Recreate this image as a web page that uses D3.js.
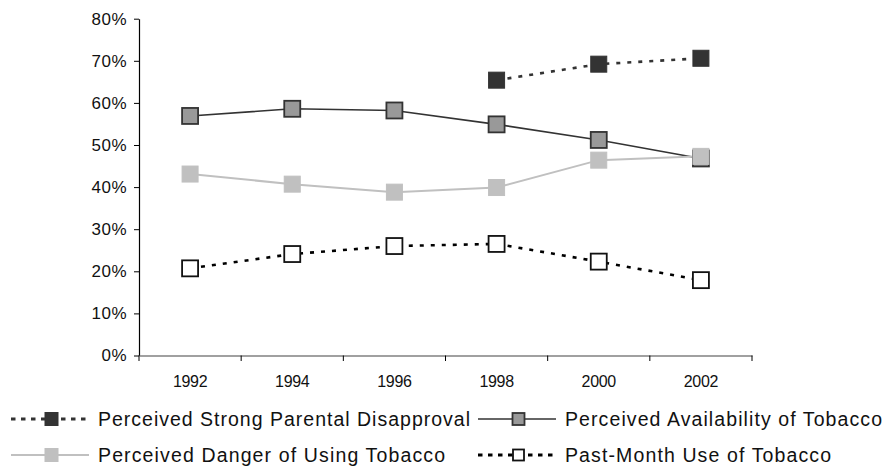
<!DOCTYPE html>
<html><head><meta charset="utf-8">
<script src="https://cdn.jsdelivr.net/npm/d3@7"></script>
<style>body{margin:0;background:#fff}svg{display:block;font-family:"Liberation Sans",Arial,sans-serif}</style>
</head><body><svg id="c" width="893" height="468"></svg>
<script>
const years = ["1992","1994","1996","1998","2000","2002"];
const parental = [null,null,null,65.4,69.2,70.6];
const availability = [56.9,58.6,58.2,54.9,51.2,46.8];
const danger = [43.1,40.7,38.8,39.9,46.4,47.3];
const pastMonth = [20.7,24.1,26.0,26.5,22.3,17.9];
const yTicks = [0,10,20,30,40,50,60,70,80];
const seriesNames = ["Perceived Strong Parental Disapproval","Perceived Availability of Tobacco","Perceived Danger of Using Tobacco","Past-Month Use of Tobacco"];

const series = [
  {name:seriesNames[0], values:parental, line:"#333333", lw:2.6, dash:"4,7", ldash:"4.5,5.5", fill:"#333333", stroke:"#333333", sw:1},
  {name:seriesNames[1], values:availability, line:"#333333", lw:1.6, dash:null, ldash:null, fill:"#999999", stroke:"#333333", sw:1.8},
  {name:seriesNames[2], values:danger, line:"#c0c0c0", lw:2, dash:null, ldash:null, fill:"#c0c0c0", stroke:"#c0c0c0", sw:1},
  {name:seriesNames[3], values:pastMonth, line:"#000000", lw:2.6, dash:"4,7", ldash:"4.5,5.5", fill:"#ffffff", stroke:"#111111", sw:1.8}
];

const svg = d3.select("#c");
const x = d3.scaleBand().domain(years).range([139,752]);
const y = d3.scaleLinear().domain([0,80]).range([355.5,18.7]);

// y axis
const ya = svg.append("g").attr("transform","translate(139,0)")
  .call(d3.axisLeft(y).tickValues(yTicks).tickFormat(d=>d+"%").tickSize(5).tickSizeOuter(0));
ya.select(".domain").attr("stroke","#000").attr("stroke-width",1.2);
ya.selectAll(".tick line").attr("stroke","#000");
ya.selectAll("text").attr("font-size",17).attr("letter-spacing",0.5).attr("fill","#111").attr("x",-12).attr("font-family","Liberation Sans, Arial, sans-serif");

// x axis
const xa = svg.append("g").attr("transform","translate(0,355.5)")
  .call(d3.axisBottom(x).tickSize(0).tickSizeOuter(0));
xa.select(".domain").attr("stroke","#808080").attr("stroke-width",1.5);
xa.selectAll("text").attr("font-size",16).attr("letter-spacing",-0.3).attr("fill","#111").attr("y",20).attr("dy","0.71em").attr("font-family","Liberation Sans, Arial, sans-serif");
const bounds = years.map(d=>x(d)).concat([x(years[years.length-1])+x.bandwidth()]);
svg.append("g").selectAll("line").data(bounds).join("line")
  .attr("x1",d=>d).attr("x2",d=>d).attr("y1",355.5).attr("y2",361).attr("stroke","#000").attr("stroke-width",1);

const cx = d=>x(d)+x.bandwidth()/2;
const ms = 16;
series.forEach(s=>{
  const pts = years.map((yr,i)=>({yr,v:s.values[i]})).filter(p=>p.v!=null);
  const line = d3.line().x(p=>cx(p.yr)).y(p=>y(p.v));
  svg.append("path").datum(pts).attr("d",line).attr("fill","none")
    .attr("stroke",s.line).attr("stroke-width",s.lw).attr("stroke-dasharray",s.dash);
});
series.forEach(s=>{
  const pts = years.map((yr,i)=>({yr,v:s.values[i]})).filter(p=>p.v!=null);
  svg.append("g").selectAll("rect").data(pts).join("rect")
    .attr("x",p=>cx(p.yr)-ms/2).attr("y",p=>y(p.v)-ms/2).attr("width",ms).attr("height",ms)
    .attr("fill",s.fill).attr("stroke",s.stroke).attr("stroke-width",s.sw);
});

// legend
const leg = [
  {s:series[0], x0:11, yy:419, m:13, tl:372},
  {s:series[1], x0:478, yy:419, m:12, tl:317},
  {s:series[2], x0:11, yy:455, m:13, tl:347},
  {s:series[3], x0:478, yy:455, m:11, tl:266}
];
leg.forEach(l=>{
  const g = svg.append("g");
  g.append("line").attr("x1",l.x0).attr("x2",l.x0+78).attr("y1",l.yy).attr("y2",l.yy)
    .attr("stroke",l.s.line).attr("stroke-width",l.s.ldash?3:l.s.lw).attr("stroke-dasharray",l.s.ldash);
  g.append("rect").attr("x",l.x0+40.5-l.m/2).attr("y",l.yy-l.m/2).attr("width",l.m).attr("height",l.m)
    .attr("fill",l.s.fill).attr("stroke",l.s.stroke).attr("stroke-width",l.s.sw);
  g.append("text").attr("x",l.x0+87).attr("y",l.yy).attr("dy","0.35em")
    .attr("font-size",19.5).attr("fill","#111").attr("textLength",l.tl).attr("lengthAdjust","spacing").text(l.s.name);
});
</script></body></html>
